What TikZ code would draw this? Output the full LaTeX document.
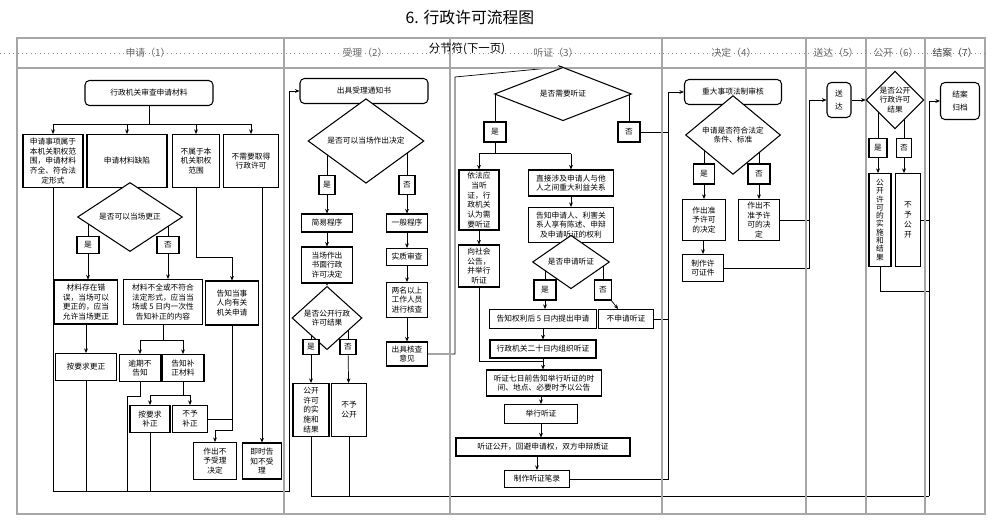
\documentclass[tikz,border=0pt]{standalone}
\usepackage{fontspec}
\setmainfont{Noto Sans CJK SC}
\usetikzlibrary{shapes.geometric,arrows.meta}
\pgfdeclarelayer{bg}
\pgfsetlayers{bg,main}
\def\pxu{0.2mm}
\newcommand\boxfont{\fontsize{4.4}{5.6}\selectfont}
\tikzset{
  b/.style 2 args={minimum width=#1*\pxu, minimum height=#2*\pxu},
  box/.style={draw, line width=0.6pt, fill=white, inner sep=0.5pt, align=center, font=\boxfont},
  rbox/.style={box, rounded corners=2.5pt},
  dia/.style={draw, line width=0.6pt, fill=white, shape=diamond, inner sep=0pt, align=center, font=\boxfont},
  lane/.style={draw=black!35, line width=0.6pt},
  head/.style={font=\fontsize{5.6}{6}\selectfont, text=black!60},
  >={Stealth[length=2.6pt,width=2.2pt]}
}
\begin{document}
\begin{tikzpicture}[x=0.02cm, y=-0.02cm, line width=0.5pt]
\useasboundingbox (0,0) rectangle (1000,531);
% title and lanes
\node[font=\fontsize{9}{10}\selectfont] (title) at (470,18) {6. 行政许可流程图};
\draw[lane] (17,38) rectangle (985,514);
\draw[lane] (17,68) -- (985,68);
\foreach \x in {284,450,662,806,866,925} \draw[lane] (\x,38) -- (\x,514);
\draw[black!45, dotted] (0,53) -- (985,53);
\node[head] (h1) at (148,53) {申请（1）};
\node[head] (h2) at (365,53) {受理（2）};
\node[font=\fontsize{6.5}{7}\selectfont] (hs) at (467,49) {分节符(下一页)};
\node[head] (h3) at (556,53) {听证（3）};
\node[head] (h4) at (734,53) {决定（4）};
\node[head] (h5) at (836,53) {送达（5）};
\node[head] (h6) at (896,53) {公开（6）};
\node[head, text=black!75] (h7) at (955,53) {结案（7）};

% 申请 (1)
\node[rbox, b={128}{25}] (s0) at (149,93) {行政机关审查申请材料};
\node[box, b={60}{53}] (s1) at (53,161) {申请事项属于\\本机关职权范\\围，申请材料\\齐全、符合法\\定形式};
\node[box, b={80}{53}] (s2) at (127,161) {申请材料缺陷};
\node[box, b={47}{53}] (s3) at (196,161) {不属于本\\机关职权\\范围};
\node[box, b={55}{53}] (s4) at (251,161) {不需要取得\\行政许可};
\node[dia, b={105}{33}] (q1) at (130,217) {是否可以当场更正};
\node[box, b={22}{17}] (y1) at (88,245) {是};
\node[box, b={22}{17}] (n1) at (168,245) {否};
\node[box, b={63}{44}] (e1) at (86,302) {材料存在错\\误，当场可以\\更正的，应当\\允许当场更正};
\node[box, b={79}{45}] (e2) at (163,302) {材料不全或不符合\\法定形式，应当当\\场或 5 日内一次性\\告知补正的内容};
\node[box, b={53}{44}] (e3) at (232,303) {告知当事\\人向有关\\机关申请};
\node[box, b={39}{36}] (e4) at (262,461) {即时告\\知不受\\理};
\node[box, b={61}{27}] (f1) at (86,367) {按要求更正};
\node[box, b={41}{27}] (f2) at (140,368) {逾期不\\告知};
\node[box, b={42}{27}] (f3) at (183,368) {告知补\\正材料};
\node[box, b={40}{27}] (g1) at (150,419) {按要求\\补正};
\node[box, b={35}{27}] (g2) at (190,419) {不予\\补正};
\node[box, b={43}{37}] (g3) at (215,461) {作出不\\予受理\\决定};
\coordinate (c1) at (289,491);

% 受理 (2)
\node[rbox, b={128}{25}] (r0) at (364,91) {出具受理通知书};
\node[dia, b={116}{48}] (q2) at (366,141) {是否可以当场作出决定};
\node[box, b={16}{19}] (y2) at (327,185) {是};
\node[box, b={16}{19}] (n2) at (407,185) {否};
\node[box, b={51}{18}] (r1) at (327,223) {简易程序};
\node[box, b={41}{18}] (r2) at (407,223) {一般程序};
\node[box, b={51}{36}] (r3) at (327,265) {当场作出\\书面行政\\许可决定};
\node[box, b={41}{17}] (r4) at (407,257) {实质审查};
\node[box, b={41}{35}] (r5) at (407,300) {两名以上\\工作人员\\进行核查};
\node[box, b={41}{24}] (r6) at (407,354) {出具核查\\意见};
\node[dia, b={70}{36}] (q3) at (327,318) {是否公开行政\\许可结果};
\node[box, b={16}{15}] (y3) at (311,347) {是};
\node[box, b={16}{15}] (n3) at (348,347) {否};
\node[box, b={36}{53}] (r7) at (311,410) {公开\\许可\\的实\\施和\\结果};
\node[box, b={35}{53}] (r8) at (349,410) {不予\\公开};
\coordinate (c2) at (455,77);
\coordinate (c3) at (929,496);

% 听证 (3)
\node[dia, b={137}{33}] (q4) at (563,94) {是否需要听证};
\node[box, b={22}{20}] (y4) at (495,132) {是};
\node[box, b={22}{20}] (n4) at (629,132) {否};
\node[box, b={40}{60}] (t1) at (479,200) {依法应\\当听\\证，行\\政机关\\认为需\\要听证};
\node[box, b={85}{26}] (t2) at (571,183) {直接涉及申请人与他\\人之间重大利益关系};
\node[box, b={85}{35}] (t3) at (571,225) {告知申请人、利害关\\系人享有陈述、申辩\\及申请听证的权利};
\node[dia, b={77}{20}] (q5) at (571,262) {是否申请听证};
\node[box, b={22}{20}] (y5) at (545,290) {是};
\node[box, b={17}{20}] (n5) at (603,290) {否};
\node[box, b={41}{42}] (t11) at (479,266) {向社会\\公告，\\并举行\\听证};
\node[box, b={107}{19}] (t4) at (543,319) {告知权利后 5 日内提出申请};
\node[box, b={55}{19}] (t5) at (626,319) {不申请听证};
\node[box, b={106}{18}] (t6) at (543,349) {行政机关二十日内组织听证};
\node[box, b={115}{26}] (t7) at (544,383) {听证七日前告知举行听证的时\\间、地点、必要时予以公告};
\node[box, b={73}{19}] (t8) at (541,414) {举行听证};
\node[box, b={174}{18}] (t9) at (543,447) {听证公开，回避申请权，双方申辩质证};
\node[box, b={65}{17}] (t10) at (537,479) {制作听证笔录};
\coordinate (c4) at (668,92);

% 决定 (4) - 结案 (7)
\node[rbox, b={97}{25}] (d0) at (733,92) {重大事项法制审核};
\node[dia, b={95}{35}] (q6) at (733,135) {申请是否符合法定\\条件、标准};
\node[box, b={21}{20}] (y6) at (704,174) {是};
\node[box, b={22}{20}] (n6) at (759,174) {否};
\node[box, b={43}{41}] (d1) at (704,220) {作出准\\予许可\\的决定};
\node[box, b={41}{41}] (d2) at (759,220) {作出不\\准予许\\可的决\\定};
\node[box, b={41}{27}] (d3) at (703,268) {制作许\\可证件};
\coordinate (c5) at (809,100);
\node[rbox, b={24}{35}] (p0) at (839,100) {送\\[2pt]达};
\node[dia, b={46}{56}] (q7) at (895,100) {是否公开\\行政许可\\结果};
\node[box, b={18}{19}] (y7) at (878,148) {是};
\node[box, b={15}{19}] (n7) at (904,148) {否};
\node[box, b={22}{93}, font=\fontsize{4.4}{4.7}\selectfont] (p1) at (880,220) {公\\开\\许\\可\\的\\实\\施\\和\\结\\果};
\node[box, b={25}{93}] (p2) at (908,220) {不\\予\\公\\开};
\node[rbox, b={39}{37}] (z) at (960,101) {结案\\[2pt]归档};

\begin{pgfonlayer}{bg}
% 申请
\draw (s0.south) -- ++(0,18) coordinate (j1);
\draw (j1 -| s1) -- (j1 -| s4);
\foreach \n in {s1,s2,s3,s4} \draw[->] (j1 -| \n) -- (\n.north);
\draw[->] (s2) -- (q1);
\draw (q1.center -| y1) -- (y1);
\draw (q1.center -| n1) -- (n1);
\draw[->] (y1.south) -- (y1.south |- e1.north);
\draw[->] (n1.south) -- (n1.south |- e2.north);
\draw[->] (s3.south) -- ++(0,69) -| (e3.north);
\draw[->] (s4.south -| e4) -- (e4.north);
\draw[->] (e1) -- (f1);
\draw (e2.south) -- ++(0,15) coordinate (j2);
\draw (j2 -| f2) -- (j2 -| f3);
\draw[->] (j2 -| f2) -- (f2.north);
\draw[->] (j2 -| f3) -- (f3.north);
\draw (f3.south) -- ++(0,13) coordinate (j3);
\draw (j3 -| g1) -- (j3 -| g2);
\draw[->] (j3 -| g1) -- (g1.north);
\draw[->] (j3 -| g2) -- (g2.north);
\draw (e3.south) -- ++(0,105) coordinate (j4);
\draw[->] (j4) -| (g3.north);
\draw (g2.east) -- (g2.east -| j4);
\draw[->] (s1.south) |- (c1) |- (r0.west);
\draw (f1.south) -- (f1.south |- c1);
\draw (f2.south) -- ++(0,14) -- ++(-13,0) coordinate (j5) -- (j5 |- c1);
\draw (g1.south) -- (g1.south |- c1);
% 受理
\draw[->] (r0) -- (q2);
\draw (q2.center -| y2) -- (y2);
\draw (q2.center -| n2) -- (n2);
\draw[->] (y2) -- (r1);
\draw[->] (r1) -- (r3);
\draw[->] (r3) -- (q3);
\draw (q3.center -| y3) -- (y3);
\draw (q3.center -| n3) -- (n3);
\draw[->] (y3) -- (r7);
\draw[->] (n3) -- (r8);
\draw[->] (n2) -- (r2);
\draw[->] (r2) -- (r4);
\draw[->] (r4) -- (r5);
\draw[->] (r5) -- (r6);
\draw[->] (r6.east) -| (c2) -- (q4.north);
\draw (r7.south) |- (c3);
\draw (r8.south) -- (r8.south |- c3);
\draw[->] (c3) |- (z.west);
% 听证
\draw (q4.center -| y4) -- (y4);
\draw (q4.center -| n4) -- (n4);
\draw (y4.south) -- ++(0,11) coordinate (j6);
\draw (j6 -| t1) -- (j6 -| t2);
\draw[->] (j6 -| t1) -- (t1.north);
\draw[->] (j6 -| t2) -- (t2.north);
\draw[->] (t1) -- (t11);
\draw[->] (t2) -- (t3);
\draw[->] (t3) -- (q5);
\draw (q5.center -| y5) -- (y5);
\draw (q5.center -| n5) -- (n5);
\draw[->] (y5.south) -- (y5.south |- t4.north);
\draw[->] (n5) -- (t5);
\draw[->] (t4) -- (t6);
\draw[->] (t6.south) -- (t6.south |- t7.north);
\draw (t11.south) |- ([yshift=1.6mm]t7.north);
\draw[->] (t7.south -| t8) -- (t8.north);
\draw[->] (t8) -- (t8 |- t9.north);
\draw[->] (t10 |- t9.south) -- (t10.north);
\draw (n4.east) -- (n4.east -| c4);
\draw (t5.east) -- (t5.east -| c4);
\draw[->] (t10.east) -| (c4) -- (d0.west);
% 决定, 送达, 公开
\draw[->] (d0) -- (q6);
\draw (q6.center -| y6) -- (y6);
\draw (q6.center -| n6) -- (n6);
\draw[->] (y6) -- (d1);
\draw[->] (n6) -- (d2);
\draw[->] (d1.south -| d3) -- (d3.north);
\draw (d2.east) -- (d2.east -| c5);
\draw[->] (d3.east) -| (c5) -- (p0.west);
\draw[->] (p0) -- (q7);
\draw (q7.center -| y7) -- (y7);
\draw (q7.center -| n7) -- (n7);
\draw[->] (y7) -- (y7 |- p1.north);
\draw[->] (n7) -- (n7 |- p2.north);
\draw (p1.south) -- ++(0,24) -| (c3);
\draw (p2.east) -- (p2.east -| c3);
\end{pgfonlayer}
\end{tikzpicture}
\end{document}
